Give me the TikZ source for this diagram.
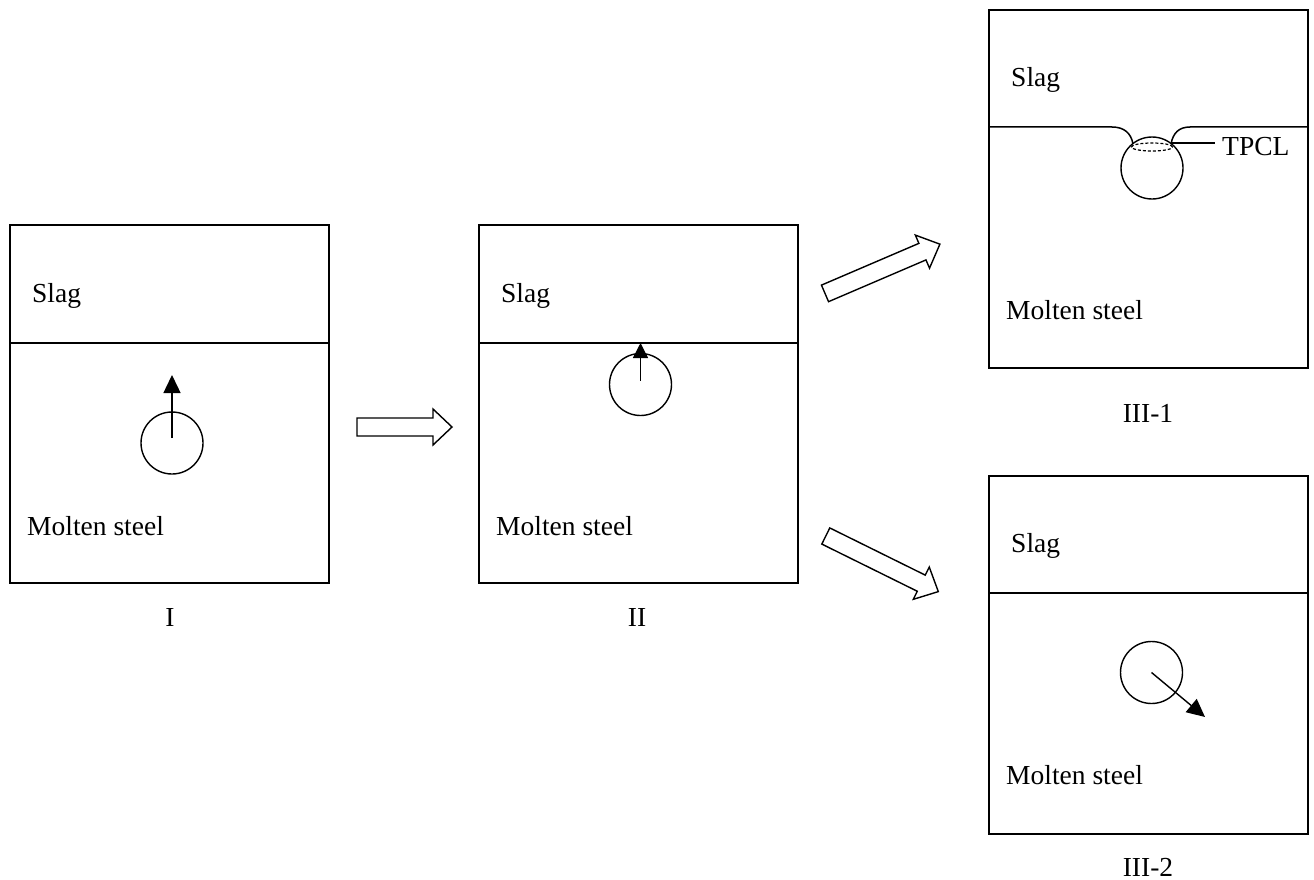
\documentclass[tikz,border=0pt]{standalone}
\usepackage{fontspec}
\setmainfont{Liberation Serif}
\usetikzlibrary{arrows.meta,calc}

\tikzset{
  vessel/.style={draw, line width=1.5pt, minimum width=319pt, minimum height=358pt,
                 inner sep=0pt, outer sep=0pt, anchor=north west},
  bubble/.style={draw, circle, line width=1.4pt, minimum size=62pt, inner sep=0pt, outer sep=0pt},
  txt/.style={font=\fontsize{27.5}{32}\selectfont, inner sep=0pt, anchor=base west},
  caption/.style={font=\fontsize{27.5}{32}\selectfont, inner sep=0pt},
  interface/.style={line width=1.5pt},
  rise/.style={line width=1.4pt, -{Triangle[length=18pt,width=17pt]}},
  pics/fatarrow/.style={code={
    \draw[line width=1.4pt, line join=miter, fill=white]
      (0,-9) -- ({#1-19},-9) -- ({#1-19},-18) -- (#1,0) -- ({#1-19},18)
      -- ({#1-19},9) -- (0,9) -- cycle;}}
}

\begin{document}
\begin{tikzpicture}[x=1pt, y=-1pt]
\useasboundingbox (0,0) rectangle (1314,880);

% --- stage I: bubble rising in the melt ---
\node[vessel] (boxI) at (10,225) {};
\draw[interface] ([yshift=-118pt]boxI.north west) -- ([yshift=-118pt]boxI.north east);
\node[txt] (slagI) at (32,302) {Slag};
\node[txt] (steelI) at (27,535) {Molten steel};
\node[bubble] (bubI) at (172,443) {};
\coordinate (tipI) at (172,375);
\draw[rise] ([yshift=5pt]bubI.center) -- (tipI);
\node[caption] (labI) at (170,617) {I};

% --- stage II: bubble reaching the interface ---
\node[vessel] (boxII) at (479,225) {};
\draw[interface] ([yshift=-118pt]boxII.north west) -- ([yshift=-118pt]boxII.north east);
\node[txt] (slagII) at (501,302) {Slag};
\node[txt] (steelII) at (496,535) {Molten steel};
\node[bubble] (bubII) at (640.5,384.5) {};
\coordinate (tipII) at (640.5,343);
\draw[line width=1.4pt, -{Triangle[length=15pt,width=15pt]}] ([yshift=4pt]bubII.center) -- (tipII);
\node[caption] (labII) at (637,617) {II};

% --- stage III-1: bubble attached, three-phase contact line ---
\node[vessel] (boxIIIa) at (989,10) {};
\node[txt] (slagIIIa) at (1011,87) {Slag};
\node[txt] (steelIIIa) at (1006,319) {Molten steel};
\node[bubble] (bubIIIa) at (1152,168) {};
\draw[interface] (boxIIIa.west |- 0,127) -- (1112,127)
  .. controls (1124,127) and (1131,133) .. (1133,144);
\draw[interface] (1171,144) .. controls (1173,133) and (1179,127) .. (1190,127)
  -- (boxIIIa.east |- 0,127);
\draw[line width=1.2pt, dash pattern=on 3pt off 2pt] (1152,147) ellipse [x radius=20.5pt, y radius=4pt];
\node[caption, anchor=west, inner sep=0pt] (tpcl) at (1222,147) {TPCL};
\coordinate (tpclfoot) at (1172,143);
\draw[line width=1.4pt] (tpclfoot) -- (1215,143);
\node[caption] (labIIIa) at (1148,413) {III-1};

% --- stage III-2: bubble rejected back into the melt ---
\node[vessel] (boxIIIb) at (989,476) {};
\draw[interface] ([yshift=-117pt]boxIIIb.north west) -- ([yshift=-117pt]boxIIIb.north east);
\node[txt] (slagIIIb) at (1011,552) {Slag};
\node[txt] (steelIIIb) at (1006,784) {Molten steel};
\node[bubble] (bubIIIb) at (1151.5,672.5) {};
\coordinate (tipIIIb) at (1205,717);
\draw[rise] (bubIIIb.center) -- (tipIIIb);
\node[caption] (labIIIb) at (1148,867) {III-2};

% --- transition arrows ---
\pic at (357,427) {fatarrow=95};
\pic[rotate=23.2] at (825,293.4) {fatarrow=125};
\pic[rotate=-26.3] at (825.8,536) {fatarrow=125.5};
\end{tikzpicture}
\end{document}
